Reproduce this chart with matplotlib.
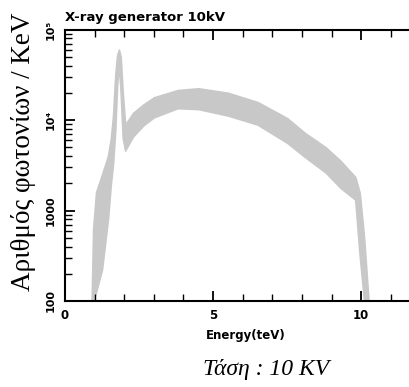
import matplotlib
matplotlib.use("Agg")
import matplotlib.pyplot as plt
import numpy as np

# Spectrum envelope (energy in keV, counts per keV)
energy = [0.90, 0.95, 1.05, 1.25, 1.45, 1.55, 1.62, 1.70, 1.76, 1.82, 1.88,
          1.95, 2.03, 2.30, 2.64, 3.00, 3.80, 4.50, 5.50, 6.50, 7.50, 8.10,
          8.80, 9.30, 9.80, 9.95, 10.10, 10.25]
counts_high = [100, 630, 1600, 2500, 4000, 6300, 11000, 32000, 52000, 60000, 50000,
               20000, 8900, 12000, 14800, 17800, 21400, 22400, 20000, 15800, 10500, 7200,
               5000, 3550, 2350, 1580, 500, 100]
counts_low = [100, 100, 126, 224, 800, 2000, 3200, 8000, 25000, 40000, 20000,
              6300, 4600, 6600, 8700, 10700, 13500, 13200, 11200, 8900, 5600, 3900,
              2630, 1780, 1320, 320, 100, 100]

xticks = [0, 5, 10]
xticklabels = ["0", "5", "10"]
yticks = [100, 1000, 10000, 100000]
yticklabels = ["100", "1000", "10\u2074", "10\u2075"]

title = "X-ray generator 10kV"
xlabel = "Energy(teV)"
ylabel = "Αριθμός φωτονίων / KeV"
caption = "Τάση : 10 KV"

fig = plt.figure(figsize=(4.10, 3.87), dpi=100)
W, H = 410, 387
left, right, bottom, top = 65, 410, 301, 29.5
ax = fig.add_axes([left / W, 1 - bottom / H, (right - left) / W, (bottom - top) / H])

ax.fill_between(energy, counts_low, counts_high, color="#c8c8c8", linewidth=1.2,
                edgecolor="#c8c8c8")

ax.set_yscale("log")
ax.set_xlim(0, 11.65)
ax.set_ylim(100, 100000)

ax.set_xticks(xticks)
ax.set_xticklabels(xticklabels, fontweight="bold", fontsize=8.5)
ax.set_xticks(np.arange(0, 12, 1), minor=True)
ax.set_yticks(yticks)
ax.set_yticklabels(yticklabels, fontweight="bold", fontsize=8, rotation=90, va="center")

ax.tick_params(axis="both", which="major", direction="in", length=7, width=1.3, color="black")
ax.tick_params(axis="both", which="minor", direction="in", length=5, width=1.0, color="black")
ax.tick_params(axis="x", which="both", top=True, bottom=True, pad=6)
ax.tick_params(axis="y", which="both", left=True, right=False, pad=7)

for s in ["left", "bottom", "top"]:
    ax.spines[s].set_linewidth(1.5)
ax.spines["right"].set_visible(False)

fig.text(left / W, 1 - 17 / H, title, fontsize=9.5, fontweight="bold", ha="left", va="center")
fig.text(246 / W, 1 - 335 / H, xlabel, fontsize=8.5, fontweight="bold", ha="center", va="center")
fig.text(24 / W, 1 - 152 / H, ylabel, fontsize=19.5, family="Liberation Serif",
         rotation=90, ha="center", va="center")
fig.text(266 / W, 1 - 370 / H, caption, fontsize=17, family="Liberation Serif",
         style="italic", ha="center", va="center")

fig.savefig("out.png", dpi=100)
